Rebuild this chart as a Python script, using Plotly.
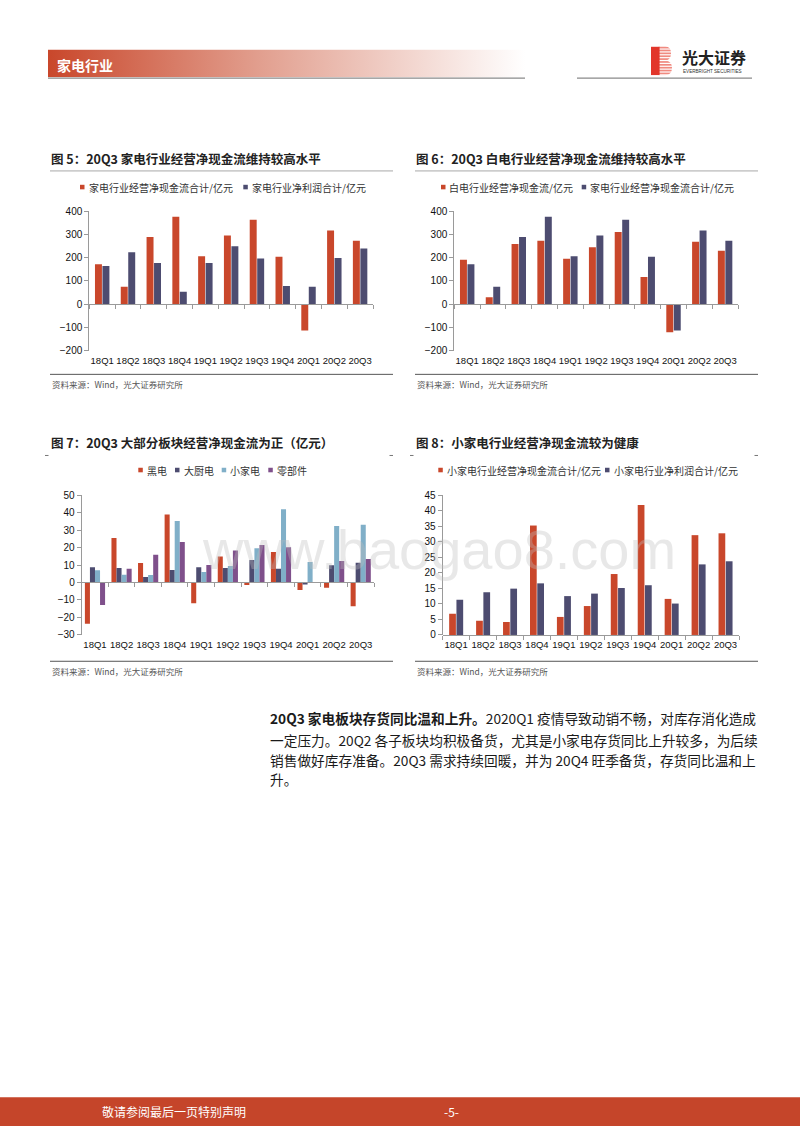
import base64
import plotly.graph_objects as go

W, H = 800, 1132

quarters = ["18Q1", "18Q2", "18Q3", "18Q4", "19Q1", "19Q2", "19Q3", "19Q4", "20Q1", "20Q2", "20Q3"]

# Chart 5
c5_names = ["家电行业经营净现金流合计/亿元", "家电行业净利润合计/亿元"]
c5_cash = [171, 75, 289, 376, 206, 295, 363, 204, -114, 317, 273]
c5_profit = [164, 223, 177, 53, 177, 249, 196, 78, 75, 198, 239]

# Chart 6
c6_names = ["白电行业经营净现金流/亿元", "家电行业经营净现金流合计/亿元"]
c6_white = [191, 30, 258, 272, 195, 245, 310, 117, -121, 268, 229]
c6_total = [171, 75, 289, 376, 206, 295, 363, 204, -114, 317, 273]

# Chart 7
c7_names = ["黑电", "大厨电", "小家电", "零部件"]
c7_black = [-23.6, 25.5, 11.1, 38.9, -11.9, 14.9, -1.5, 17.4, -4.3, -3.0, -13.6]
c7_kitchen = [8.7, 8.3, 3.2, 7.2, 8.7, 8.3, 12.8, 7.9, -1.1, 9.8, 11.3]
c7_small = [7.0, 4.5, 4.3, 35.1, 6.0, 9.4, 19.6, 41.9, 11.7, 32.3, 33.0]
c7_parts = [-12.8, 7.9, 15.8, 23.2, 10.0, 18.3, 21.5, 20.2, 0.2, 12.3, 13.4]

# Chart 8
c8_names = ["小家电行业经营净现金流合计/亿元", "小家电行业净利润合计/亿元"]
c8_cash = [6.8, 4.6, 4.2, 35.2, 5.8, 9.3, 19.6, 41.8, 11.6, 32.1, 32.7]
c8_profit = [11.3, 13.7, 14.9, 16.6, 12.5, 13.3, 15.1, 16.0, 10.1, 22.7, 23.7]

titles = [
    "图 5：20Q3 家电行业经营净现金流维持较高水平",
    "图 6：20Q3 白电行业经营净现金流维持较高水平",
    "图 7：20Q3 大部分板块经营净现金流为正（亿元）",
    "图 8：小家电行业经营净现金流较为健康",
]
source_text = "资料来源：Wind，光大证券研究所"

RED = "#c9472b"
NAVY = "#4d4c70"
LBLUE = "#80afc8"
PURPLE = "#7f508b"

AX = "#9a9a9a"
NUMF = "Liberation Sans, Arial, sans-serif"
CJK = "Noto Sans CJK SC, sans-serif"


def X(p):
    return p / W


def Y(p):
    return 1 - p / H


fig = go.Figure()
shapes = []
annotations = []

charts = [
    dict(sx="", x0=89.3, x1=373, y0=207.3, y1=348.3, rng=[-200, 400], dtick=100,
         series=[(c5_cash, RED, -0.28, 0.27), (c5_profit, NAVY, 0.01, 0.27)], standoff=47),
    dict(sx="2", x0=454.3, x1=738, y0=207.3, y1=348.3, rng=[-200, 400], dtick=100,
         series=[(c6_white, RED, -0.28, 0.27), (c6_total, NAVY, 0.01, 0.27)], standoff=47),
    dict(sx="3", x0=81.7, x1=374, y0=494.3, y1=635.7, rng=[-30, 50], dtick=10,
         series=[(c7_black, RED, -0.38, 0.19), (c7_kitchen, NAVY, -0.19, 0.19),
                 (c7_small, LBLUE, 0.0, 0.19), (c7_parts, PURPLE, 0.19, 0.19)], standoff=53),
    dict(sx="4", x0=442.7, x1=739, y0=494.3, y1=635.7, rng=[0, 45], dtick=5,
         series=[(c8_cash, RED, -0.26, 0.25), (c8_profit, NAVY, 0.01, 0.25)], standoff=1),
]

layout_axes = {}
for c in charts:
    sx = c["sx"]
    xa = "x" + sx
    ya = "y" + sx
    for vals, col, off, wd in c["series"]:
        fig.add_trace(go.Bar(x=quarters, y=vals, xaxis=xa, yaxis=ya, marker_color=col,
                             marker_line_width=0, offset=off, width=wd, showlegend=False))
    lo, hi = c["rng"]
    zero_px = c["y0"] + (hi - 0) / (hi - lo) * (c["y1"] - c["y0"])
    layout_axes["xaxis" + sx] = dict(
        type="category", domain=[X(c["x0"]), X(c["x1"])], anchor="free", position=Y(zero_px),
        range=[-0.5, 10.5], showline=True, linecolor=AX, linewidth=1, ticks="outside",
        tickson="boundaries", ticklen=4, tickcolor=AX, showgrid=False, tickangle=0,
        tickfont=dict(family=NUMF, size=9.5, color="#111"), ticklabelstandoff=c["standoff"],
        fixedrange=True,
    )
    layout_axes["yaxis" + sx] = dict(
        domain=[Y(c["y1"]), Y(c["y0"])], anchor=xa, range=c["rng"], dtick=c["dtick"],
        tick0=0, showline=True, linecolor=AX, linewidth=1, ticks="outside", ticklen=4,
        tickcolor=AX, showgrid=False, zeroline=False,
        tickfont=dict(family=NUMF, size=10, color="#111"), fixedrange=True,
    )


def line(x0, y0, x1, y1, color, width=1):
    shapes.append(dict(type="line", xref="paper", yref="paper", x0=X(x0), x1=X(x1),
                       y0=Y(y0), y1=Y(y1), line=dict(color=color, width=width)))


def rect(x0, y0, x1, y1, color):
    shapes.append(dict(type="rect", xref="paper", yref="paper", x0=X(x0), x1=X(x1),
                       y0=Y(y0), y1=Y(y1), fillcolor=color, line=dict(width=0)))


def text(x, y, s, size, color="#222", family=CJK, xanchor="left", bold=False):
    if bold:
        s = "<b>" + s + "</b>"
    annotations.append(dict(xref="paper", yref="paper", x=X(x), y=Y(y), text=s,
                            showarrow=False, xanchor=xanchor, yanchor="middle",
                            font=dict(family=family, size=size, color=color)))


panel_left = [50, 415, 50, 415]
panel_right = [393, 758, 393, 758]
title_y = [154.3, 154.3, 441, 441]
for i in range(4):
    text(panel_left[i] - 1, title_y[i], titles[i], 12.5, "#222", bold=True)
for i in range(2):
    line(panel_left[i], 166.7, panel_right[i], 166.7, "#a8a8a8", 1)
    line(panel_left[i], 372.3, panel_right[i], 372.3, "#555", 1)
    text(panel_left[i], 382, source_text, 8.5, "#555")
for i in range(2, 4):
    line(panel_left[i] - 5, 454.3, panel_left[i] - 1.5, 454.3, "#777", 1)
    line(panel_right[i] - 3.5, 454.3, panel_right[i], 454.3, "#777", 1)
    line(panel_left[i], 662.3, panel_right[i], 662.3, "#555", 1)
    text(panel_left[i], 672.3, source_text, 8.5, "#555")

legend_items = [
    (183, [(80, c5_names[0], RED), (243.3, c5_names[1], NAVY)]),
    (183, [(441, c6_names[0], RED), (581.7, c6_names[1], NAVY)]),
    (469, [(138.3, c7_names[0], RED), (175, c7_names[1], NAVY),
           (221.7, c7_names[2], LBLUE), (268.3, c7_names[3], PURPLE)]),
    (469, [(438.3, c8_names[0], RED), (605, c8_names[1], NAVY)]),
]
for ly, items in legend_items:
    for sx0, name, col in items:
        rect(sx0, ly - 2.3, sx0 + 4.5, ly + 2.3, col)
        text(sx0 + 6.5, ly, name, 10, "#333")

grad_svg = (
    '<svg xmlns="http://www.w3.org/2000/svg" width="480" height="28">'
    '<defs><linearGradient id="g" x1="0" y1="0" x2="1" y2="0">'
    '<stop offset="0" stop-color="#c9472b"/><stop offset="0.45" stop-color="#e2a090"/>'
    '<stop offset="1" stop-color="#ffffff"/></linearGradient></defs>'
    '<rect width="480" height="28" fill="url(#g)"/></svg>'
)
logo_svg = (
    '<svg xmlns="http://www.w3.org/2000/svg" width="22" height="30">'
    '<path d="M8 0 H15 Q21 0 21 7 Q21 13 16 14.5 Q22 16 22 22 Q22 30 15 30 H8 Z" fill="#f08a80"/>'
    + "".join('<rect x="8" y="%d" width="14" height="1.2" fill="#ffffff"/>' % k for k in range(2, 30, 3))
    + '<rect x="0" y="0" width="9" height="30" fill="#e2362b"/>'
    '</svg>'
)


def data_uri(svg):
    return "data:image/svg+xml;base64," + base64.b64encode(svg.encode("utf-8")).decode()


images = [
    dict(source=data_uri(grad_svg), xref="paper", yref="paper", x=X(48), y=Y(44),
         sizex=(525 - 48) / W, sizey=28 / H, sizing="stretch", xanchor="left",
         yanchor="top", layer="below"),
    dict(source=data_uri(logo_svg), xref="paper", yref="paper", x=X(651), y=Y(41),
         sizex=21 / W, sizey=29 / H, sizing="stretch", xanchor="left", yanchor="top",
         layer="above"),
]
line(48, 72.8, 525, 72.8, "#8a8a8a", 1.2)
line(577, 72.8, 752, 72.8, "#8a8a8a", 1.2)
text(55, 59.5, "家电行业", 14, "#ffffff", bold=True)
text(680, 52, "光大证券", 16, "#222", bold=True)
text(681, 66.5, "EVERBRIGHT SECURITIES", 4.6, "#333", family=NUMF)

rect(0, 1103, 800, 1132, "#c5452a")
text(100, 1117, "敬请参阅最后一页特别声明", 12, "#ffffff")
text(451, 1117, "-5-", 12, "#ffffff", xanchor="center")

para = [
    "<b>20Q3 家电板块存货同比温和上升。</b>2020Q1 疫情导致动销不畅，对库存消化造成",
    "一定压力。20Q2 各子板块均积极备货，尤其是小家电存货同比上升较多，为后续",
    "销售做好库存准备。20Q3 需求持续回暖，并为 20Q4 旺季备货，存货同比温和上",
    "升。",
]
para_y = [720, 741.7, 761.7, 781.7]
for s, py in zip(para, para_y):
    text(268, py, s, 13.7, "#1a1a1a")

annotations.append(dict(xref="paper", yref="paper", x=X(200), y=Y(549), text="www.baogao8.com",
                        showarrow=False, xanchor="left", yanchor="middle",
                        font=dict(family=NUMF, size=56, color="rgba(190,190,190,0.35)")))

fig.update_layout(
    width=W, height=H, margin=dict(l=0, r=0, t=0, b=0),
    paper_bgcolor="white", plot_bgcolor="rgba(0,0,0,0)",
    barmode="overlay", showlegend=False,
    shapes=shapes, annotations=annotations, images=images,
    **layout_axes,
)

fig.write_html("out.html", config={"displayModeBar": False},
               post_script="document.body.style.margin='0';document.body.style.overflow='hidden';")
